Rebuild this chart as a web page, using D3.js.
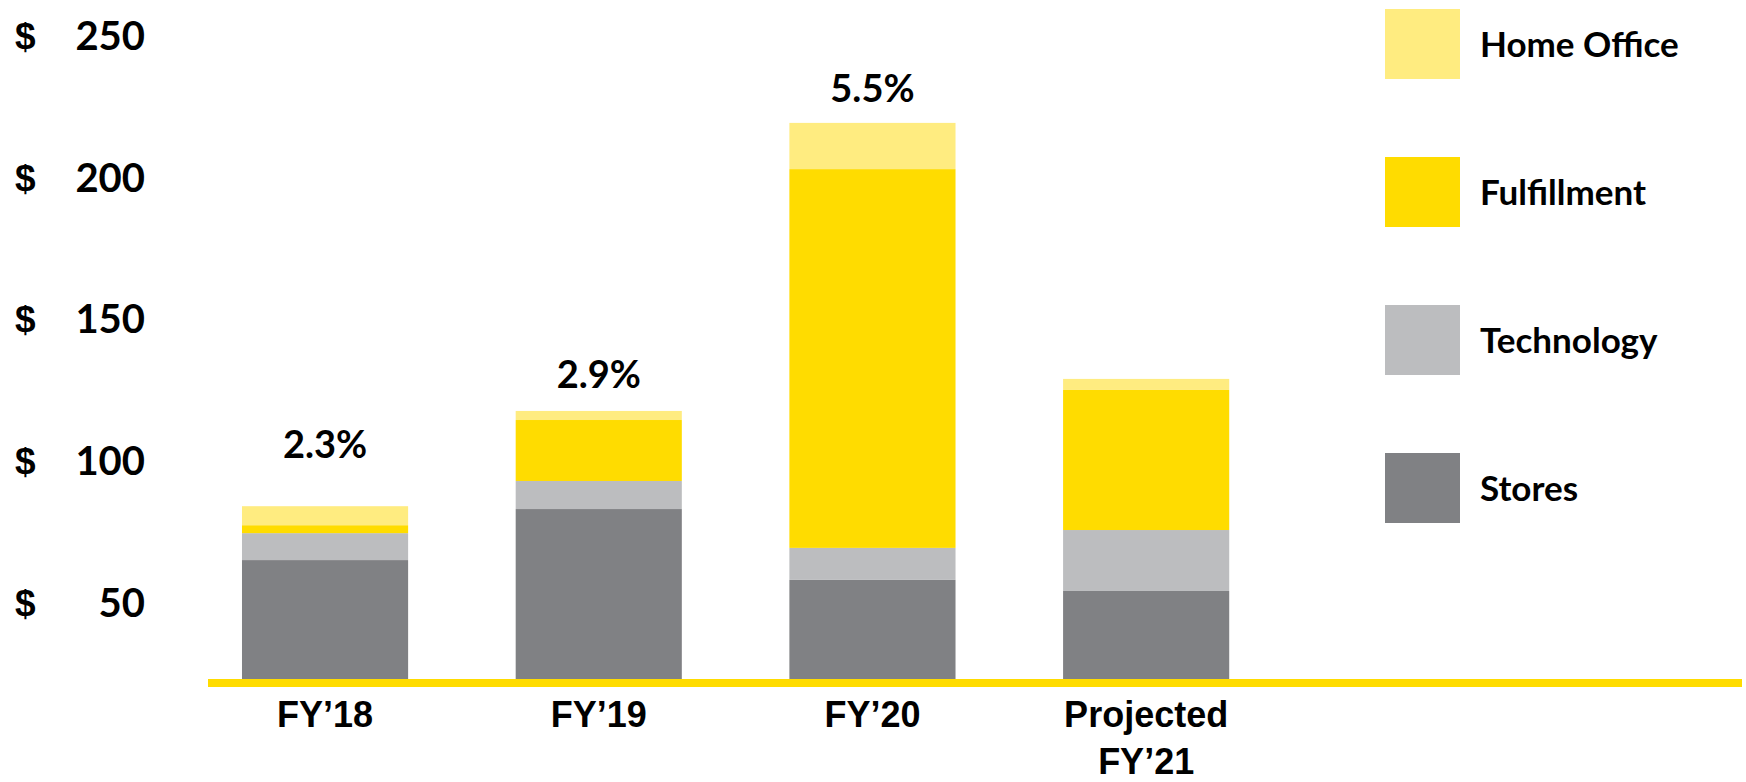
<!DOCTYPE html>
<html>
<head>
<meta charset="utf-8">
<script src="https://cdn.jsdelivr.net/npm/d3@7"></script>
<style>
  body { margin: 0; background: #fff; }
  svg { display: block; font-family: Lato, "Open Sans", sans-serif; font-weight: 700; }
  text { fill: #000; }
</style>
</head>
<body>
<svg width="1746" height="782"></svg>
<script>
var years = ['FY’18', 'FY’19', 'FY’20', 'Projected\nFY’21'];
var series = ['Stores', 'Technology', 'Fulfillment', 'Home Office'];
var stores = [64.8, 82.8, 57.8, 53.9];
var technology = [9.5, 9.9, 11.3, 21.5];
var fulfillment = [2.8, 21.5, 133.6, 49.4];
var homeOffice = [6.7, 3.2, 16.3, 3.9];
var pctLabels = ['2.3%', '2.9%', '5.5%', ''];
var yTicks = [50, 100, 150, 200, 250];
var colors = ['#808184', '#bcbdbf', '#ffdc00', '#ffec80'];

var rows = years.map((y, i) => ({
  year: y,
  'Stores': stores[i],
  'Technology': technology[i],
  'Fulfillment': fulfillment[i],
  'Home Office': homeOffice[i]
}));

var svg = d3.select('svg');

var x = d3.scaleBand()
          .domain(years)
          .range([188.2, 1283])
          .paddingInner(0.393)
          .paddingOuter(0.1965);

var y = d3.scaleLinear()
          .domain([22.5, 250])
          .range([680, 35])
          .clamp(true);

var color = d3.scaleOrdinal().domain(series).range(colors);

var stacked = d3.stack().keys(series)(rows);

// bars
svg.selectAll('g.layer')
  .data(stacked)
  .enter()
  .append('g')
    .attr('class', 'layer')
    .attr('fill', d => color(d.key))
  .selectAll('rect')
  .data(d => d)
  .enter()
  .append('rect')
    .attr('x', d => x(d.data.year))
    .attr('width', x.bandwidth())
    .attr('y', d => y(d[1]))
    .attr('height', d => y(d[0]) - y(d[1]));

// baseline
svg.append('rect')
  .attr('x', 208)
  .attr('y', y(0) - 1)
  .attr('width', 1534)
  .attr('height', 8)
  .attr('fill', '#ffdc00');

// y axis
var yAxis = svg.append('g')
  .attr('transform', 'translate(145,0)')
  .call(d3.axisLeft(y).tickValues(yTicks).tickSize(0).tickPadding(0).tickFormat(d3.format('d')));
yAxis.select('.domain').remove();
yAxis.selectAll('text')
  .attr('font-size', 40)
  .attr('font-family', 'Lato')
  .attr('font-weight', 700)
  .attr('fill', '#000')
  .attr('dy', '0.36em');
yAxis.selectAll('.tick')
  .append('text')
    .text('$')
    .attr('x', -130)
    .attr('dy', '0.36em')
    .attr('text-anchor', 'start')
    .attr('font-size', 37)
    .attr('fill', '#000');

// x axis labels
var xAxis = svg.append('g')
  .attr('transform', 'translate(0,' + 727 + ')')
  .call(d3.axisBottom(x).tickSize(0).tickFormat(''));
xAxis.select('.domain').remove();
xAxis.selectAll('.tick')
  .append('text')
    .attr('font-size', 36)
    .attr('text-anchor', 'middle')
    .attr('fill', '#000')
  .selectAll('tspan')
  .data(d => d.split('\n'))
  .enter()
  .append('tspan')
    .attr('x', 0)
    .attr('y', (d, i) => i * 47)
    .text(d => d);

// percent labels above bars
var pctOffset = [48, 23, 21, 0];
svg.selectAll('text.pct')
  .data(rows)
  .enter()
  .append('text')
    .attr('class', 'pct')
    .attr('x', d => x(d.year) + x.bandwidth() / 2)
    .attr('y', (d, i) => y(stacked[3][i][1]) - pctOffset[i])
    .attr('text-anchor', 'middle')
    .attr('font-size', 38)
    .text((d, i) => pctLabels[i]);

// legend
var legend = svg.selectAll('g.legend')
  .data(series.slice().reverse())
  .enter()
  .append('g')
    .attr('class', 'legend')
    .attr('transform', (d, i) => 'translate(1385,' + (9 + i * 148) + ')');
legend.append('rect')
  .attr('width', 75)
  .attr('height', 70)
  .attr('fill', d => color(d));
legend.append('text')
  .attr('x', 95)
  .attr('y', 48)
  .attr('font-size', 35)
  .text(d => d);
</script>
</body>
</html>
